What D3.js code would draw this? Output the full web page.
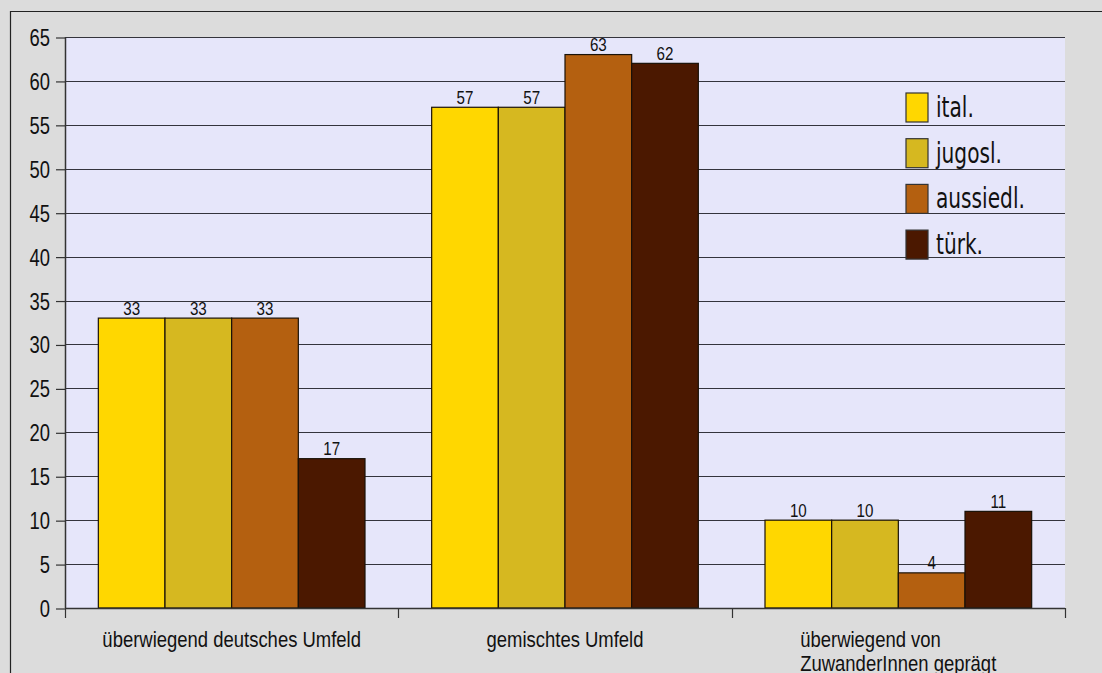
<!DOCTYPE html>
<html>
<head>
<meta charset="utf-8">
<script src="https://cdn.jsdelivr.net/npm/d3@7"></script>
<style>
  html, body { margin: 0; padding: 0; background: #dcdcdc; }
  svg { display: block; }
</style>
</head>
<body>
<svg id="chart" width="1102" height="673"></svg>
<script>
// Wohnumfeld nach Herkunftsgruppe (Angaben in %)
const categories = [
  ["überwiegend deutsches Umfeld"],
  ["gemischtes Umfeld"],
  ["überwiegend von", "ZuwanderInnen geprägt"]
];
const seriesNames = ["ital.", "jugosl.", "aussiedl.", "türk."];
const italValues = [33, 57, 10];
const jugoslValues = [33, 57, 10];
const aussiedlValues = [33, 63, 4];
const tuerkValues = [17, 62, 11];
const yTicks = [0, 5, 10, 15, 20, 25, 30, 35, 40, 45, 50, 55, 60, 65];
const seriesColors = ["#ffd700", "#d6b820", "#b46010", "#4b1800"];

const seriesValues = [italValues, jugoslValues, aussiedlValues, tuerkValues];

const SANS = "'Liberation Sans', Arial, sans-serif";
const LEGEND_FONT = "'DejaVu Sans Condensed', 'DejaVu Sans', sans-serif";

// narrow text: place at (x, y) and squeeze horizontally
function narrow(sel, x, y, sx) {
  sel.attr("x", 0).attr("y", 0)
    .attr("transform", (d, i, n) => {
      const xx = typeof x === "function" ? x(d, i, n) : x;
      const yy = typeof y === "function" ? y(d, i, n) : y;
      return `translate(${xx},${yy}) scale(${sx},1)`;
    });
}

const svg = d3.select("#chart");
const plot = { left: 65, right: 1065, top: 37, bottom: 608 };

// outer frame (top and left edges)
svg.append("path")
  .attr("d", "M10.5,673 V11.5 H1102")
  .attr("fill", "none").attr("stroke", "#222").attr("stroke-width", 1.2);

// plot background
svg.append("rect")
  .attr("x", plot.left).attr("y", plot.top)
  .attr("width", plot.right - plot.left).attr("height", plot.bottom - plot.top)
  .attr("fill", "#e6e6fa");

const y = d3.scaleLinear().domain([0, 65]).range([plot.bottom, plot.top]);
const catIdx = categories.map((_, i) => i);
const x0 = d3.scaleBand().domain(catIdx).range([plot.left, plot.right]).padding(0);
const x1 = d3.scaleBand().domain(d3.range(seriesNames.length))
  .range([x0.bandwidth() * 0.1, x0.bandwidth() * 0.9]).padding(0);

// horizontal grid lines
svg.append("g").selectAll("line").data(yTicks.filter(t => t > 0)).join("line")
  .attr("x1", plot.left).attr("x2", plot.right)
  .attr("y1", d => Math.round(y(d)) + 0.5).attr("y2", d => Math.round(y(d)) + 0.5)
  .attr("stroke", "#34343c").attr("stroke-width", 1.2);

// y axis
const yAxis = d3.axisLeft(y).tickValues(yTicks).tickSize(9).tickPadding(6).tickFormat(d3.format("d"));
const gy = svg.append("g").attr("transform", `translate(${plot.left},0.5)`).call(yAxis);
gy.select(".domain").remove();
gy.selectAll(".tick line").attr("stroke", "#333").attr("stroke-width", 1.2);
gy.selectAll(".tick text")
  .attr("font-family", SANS).attr("font-size", 23).attr("fill", "#111")
  .attr("dy", null).attr("text-anchor", "end")
  .call(narrow, -15, 8, 0.8);
svg.append("line")
  .attr("x1", plot.left + 0.5).attr("x2", plot.left + 0.5)
  .attr("y1", plot.top).attr("y2", plot.bottom)
  .attr("stroke", "#333").attr("stroke-width", 1.5);

// bars
const groups = svg.append("g").selectAll("g").data(catIdx).join("g")
  .attr("transform", i => `translate(${x0(i)},0)`);

groups.selectAll("rect")
  .data(i => seriesValues.map((vals, s) => ({ s, v: vals[i] })))
  .join("rect")
  .attr("x", d => x1(d.s))
  .attr("y", d => y(d.v))
  .attr("width", x1.bandwidth())
  .attr("height", d => y(0) - y(d.v))
  .attr("fill", d => seriesColors[d.s])
  .attr("stroke", "#1a1208").attr("stroke-width", 1.2);

// value labels
groups.selectAll("text")
  .data(i => seriesValues.map((vals, s) => ({ s, v: vals[i] })))
  .join("text")
  .attr("text-anchor", "middle")
  .attr("font-family", SANS).attr("font-size", 18.5).attr("fill", "#111")
  .text(d => d.v)
  .call(narrow, d => x1(d.s) + x1.bandwidth() / 2, d => y(d.v) - 3.5, 0.82);

// x axis
svg.append("line")
  .attr("x1", plot.left).attr("x2", plot.right)
  .attr("y1", plot.bottom + 0.5).attr("y2", plot.bottom + 0.5)
  .attr("stroke", "#333").attr("stroke-width", 1.5);
svg.append("g").selectAll("line").data(d3.range(categories.length + 1)).join("line")
  .attr("x1", i => Math.round(plot.left + i * x0.step()) + 0.5)
  .attr("x2", i => Math.round(plot.left + i * x0.step()) + 0.5)
  .attr("y1", plot.bottom).attr("y2", plot.bottom + 10)
  .attr("stroke", "#333").attr("stroke-width", 1.2);

// category labels
const CAT_SX = 0.84;
const catLabels = svg.append("g").selectAll("text").data(catIdx).join("text")
  .attr("font-family", SANS).attr("font-size", 22).attr("fill", "#111");
catLabels.each(function (i) {
  const t = d3.select(this);
  const lines = categories[i];
  lines.forEach((ln, k) => {
    t.append("tspan").attr("x", 0).attr("dy", k === 0 ? 0 : 24).text(ln);
  });
  const cx = x0(i) + x0.bandwidth() / 2;
  if (lines.length === 1) {
    t.attr("text-anchor", "middle").attr("transform", `translate(${cx},647) scale(${CAT_SX},1)`);
  } else {
    // multi-line: block centred, lines left-aligned
    let w = 0;
    t.selectAll("tspan").each(function () { w = Math.max(w, this.getComputedTextLength()); });
    t.attr("text-anchor", "start")
      .attr("transform", `translate(${cx - w * CAT_SX / 2},647) scale(${CAT_SX},1)`);
  }
});

// legend
const legend = svg.append("g").attr("transform", "translate(906,93)");
const li = legend.selectAll("g").data(seriesNames).join("g")
  .attr("transform", (d, i) => `translate(0,${i * 45.7})`);
li.append("rect")
  .attr("width", 22).attr("height", 29)
  .attr("fill", (d, i) => seriesColors[i])
  .attr("stroke", "#333").attr("stroke-width", 1.2);
li.append("text")
  .attr("font-family", LEGEND_FONT).attr("font-size", 28).attr("fill", "#111")
  .text(d => d)
  .call(narrow, 30, 24, 0.8);
</script>
</body>
</html>
